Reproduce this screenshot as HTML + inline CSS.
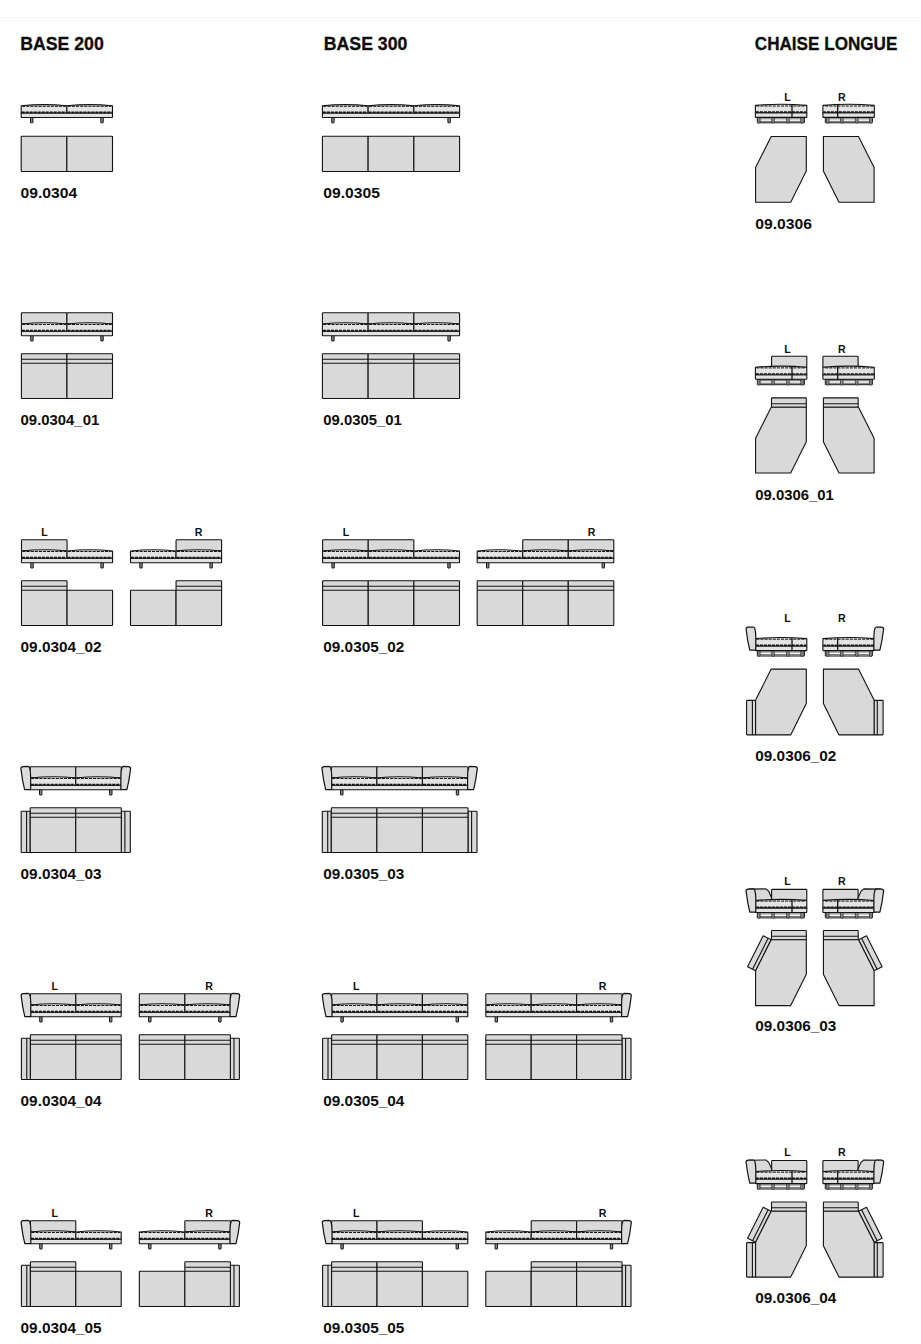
<!DOCTYPE html>
<html><head><meta charset="utf-8"><style>
html,body{margin:0;padding:0;background:#fff;}
body{width:921px;height:1344px;overflow:hidden;position:relative;}
svg{position:absolute;left:0;top:0;}
text{font-family:"Liberation Sans",sans-serif;font-weight:bold;fill:#0d0d0d;}
text.h{stroke:#0d0d0d;stroke-width:0.3px;}
</style></head><body>
<svg width="921" height="1344" viewBox="0 0 921 1344">
<line x1="0" y1="17.5" x2="921" y2="17.5" stroke="#f6f6f6" stroke-width="1"/>
<text x="20.2" y="50.2" font-size="18.8" font-weight="bold" text-anchor="start" letter-spacing="0" textLength="83.6" lengthAdjust="spacingAndGlyphs" class="h">BASE 200</text>
<text x="323.8" y="50.2" font-size="18.8" font-weight="bold" text-anchor="start" letter-spacing="0" textLength="83.6" lengthAdjust="spacingAndGlyphs" class="h">BASE 300</text>
<text x="754.8" y="50.2" font-size="18.8" font-weight="bold" text-anchor="start" letter-spacing="0" textLength="142.6" lengthAdjust="spacingAndGlyphs" class="h">CHAISE LONGUE</text>
<rect x="30.5" y="117.2" width="2.4" height="5.6" rx="0.3" fill="#8f8f8f" stroke="#121212" stroke-width="1"/>
<rect x="100.8" y="117.2" width="2.4" height="5.6" rx="0.3" fill="#8f8f8f" stroke="#121212" stroke-width="1"/>
<rect x="21.2" y="113" width="91.3" height="4.5" rx="0.4" fill="#e2e2e2" stroke="#121212" stroke-width="1.1"/>
<path d="M21.2,113 L21.2,105.8 Q44.02,103.4 66.85,105.8 L66.85,113 Z" fill="#e3e3e3" stroke="#121212" stroke-width="1.1" stroke-linejoin="round"/>
<line x1="22.2" y1="106.3" x2="65.85" y2="106.3" stroke="#121212" stroke-width="1" stroke-dasharray="3,1.1"/>
<line x1="21.7" y1="112.3" x2="66.35" y2="112.3" stroke="#121212" stroke-width="1.4" stroke-dasharray="3,1"/>
<path d="M66.85,113 L66.85,105.8 Q89.67,103.4 112.5,105.8 L112.5,113 Z" fill="#e3e3e3" stroke="#121212" stroke-width="1.1" stroke-linejoin="round"/>
<line x1="67.85" y1="106.3" x2="111.5" y2="106.3" stroke="#121212" stroke-width="1" stroke-dasharray="3,1.1"/>
<line x1="67.35" y1="112.3" x2="112" y2="112.3" stroke="#121212" stroke-width="1.4" stroke-dasharray="3,1"/>
<rect x="21.2" y="136.2" width="45.65" height="35.3" rx="0.6" fill="#d9d9d9" stroke="#121212" stroke-width="1.1"/>
<rect x="66.85" y="136.2" width="45.65" height="35.3" rx="0.6" fill="#d9d9d9" stroke="#121212" stroke-width="1.1"/>
<rect x="30.7" y="335.4" width="2.4" height="5.6" rx="0.3" fill="#8f8f8f" stroke="#121212" stroke-width="1"/>
<rect x="100.8" y="335.4" width="2.4" height="5.6" rx="0.3" fill="#8f8f8f" stroke="#121212" stroke-width="1"/>
<rect x="21.4" y="331.2" width="91.1" height="4.5" rx="0.4" fill="#e2e2e2" stroke="#121212" stroke-width="1.1"/>
<rect x="21.4" y="312.8" width="45.55" height="11" rx="0.8" fill="#d9d9d9" stroke="#121212" stroke-width="1.1"/>
<rect x="66.95" y="312.8" width="45.55" height="11" rx="0.8" fill="#d9d9d9" stroke="#121212" stroke-width="1.1"/>
<path d="M21.4,331.2 L21.4,324 Q44.17,321.6 66.95,324 L66.95,331.2 Z" fill="#e3e3e3" stroke="#121212" stroke-width="1.1" stroke-linejoin="round"/>
<line x1="22.4" y1="324.5" x2="65.95" y2="324.5" stroke="#121212" stroke-width="1" stroke-dasharray="3,1.1"/>
<line x1="21.9" y1="330.5" x2="66.45" y2="330.5" stroke="#121212" stroke-width="1.4" stroke-dasharray="3,1"/>
<path d="M66.95,331.2 L66.95,324 Q89.72,321.6 112.5,324 L112.5,331.2 Z" fill="#e3e3e3" stroke="#121212" stroke-width="1.1" stroke-linejoin="round"/>
<line x1="67.95" y1="324.5" x2="111.5" y2="324.5" stroke="#121212" stroke-width="1" stroke-dasharray="3,1.1"/>
<line x1="67.45" y1="330.5" x2="112" y2="330.5" stroke="#121212" stroke-width="1.4" stroke-dasharray="3,1"/>
<rect x="21.4" y="353.7" width="45.55" height="44.8" rx="0.6" fill="#d9d9d9" stroke="#121212" stroke-width="1.1"/>
<line x1="21.4" y1="359.2" x2="66.95" y2="359.2" stroke="#121212" stroke-width="1.1"/>
<line x1="21.4" y1="363.2" x2="66.95" y2="363.2" stroke="#121212" stroke-width="1.1"/>
<rect x="66.95" y="353.7" width="45.55" height="44.8" rx="0.6" fill="#d9d9d9" stroke="#121212" stroke-width="1.1"/>
<line x1="66.95" y1="359.2" x2="112.5" y2="359.2" stroke="#121212" stroke-width="1.1"/>
<line x1="66.95" y1="363.2" x2="112.5" y2="363.2" stroke="#121212" stroke-width="1.1"/>
<rect x="30.8" y="562.4" width="2.4" height="5.6" rx="0.3" fill="#8f8f8f" stroke="#121212" stroke-width="1"/>
<rect x="100.9" y="562.4" width="2.4" height="5.6" rx="0.3" fill="#8f8f8f" stroke="#121212" stroke-width="1"/>
<rect x="21.5" y="558.2" width="91.1" height="4.5" rx="0.4" fill="#e2e2e2" stroke="#121212" stroke-width="1.1"/>
<rect x="21.5" y="539.8" width="45.55" height="11" rx="0.8" fill="#d9d9d9" stroke="#121212" stroke-width="1.1"/>
<path d="M21.5,558.2 L21.5,551 Q44.27,548.6 67.05,551 L67.05,558.2 Z" fill="#e3e3e3" stroke="#121212" stroke-width="1.1" stroke-linejoin="round"/>
<line x1="22.5" y1="551.5" x2="66.05" y2="551.5" stroke="#121212" stroke-width="1" stroke-dasharray="3,1.1"/>
<line x1="22" y1="557.5" x2="66.55" y2="557.5" stroke="#121212" stroke-width="1.4" stroke-dasharray="3,1"/>
<path d="M67.05,558.2 L67.05,551 Q89.82,548.6 112.6,551 L112.6,558.2 Z" fill="#e3e3e3" stroke="#121212" stroke-width="1.1" stroke-linejoin="round"/>
<line x1="68.05" y1="551.5" x2="111.6" y2="551.5" stroke="#121212" stroke-width="1" stroke-dasharray="3,1.1"/>
<line x1="67.55" y1="557.5" x2="112.1" y2="557.5" stroke="#121212" stroke-width="1.4" stroke-dasharray="3,1"/>
<rect x="21.5" y="580.7" width="45.55" height="44.8" rx="0.6" fill="#d9d9d9" stroke="#121212" stroke-width="1.1"/>
<line x1="21.5" y1="586.2" x2="67.05" y2="586.2" stroke="#121212" stroke-width="1.1"/>
<line x1="21.5" y1="590.2" x2="67.05" y2="590.2" stroke="#121212" stroke-width="1.1"/>
<rect x="67.05" y="590.2" width="45.55" height="35.3" rx="0.6" fill="#d9d9d9" stroke="#121212" stroke-width="1.1"/>
<rect x="139.8" y="562.4" width="2.4" height="5.6" rx="0.3" fill="#8f8f8f" stroke="#121212" stroke-width="1"/>
<rect x="209.9" y="562.4" width="2.4" height="5.6" rx="0.3" fill="#8f8f8f" stroke="#121212" stroke-width="1"/>
<rect x="130.5" y="558.2" width="91.1" height="4.5" rx="0.4" fill="#e2e2e2" stroke="#121212" stroke-width="1.1"/>
<rect x="176.05" y="539.8" width="45.55" height="11" rx="0.8" fill="#d9d9d9" stroke="#121212" stroke-width="1.1"/>
<path d="M130.5,558.2 L130.5,551 Q153.28,548.6 176.05,551 L176.05,558.2 Z" fill="#e3e3e3" stroke="#121212" stroke-width="1.1" stroke-linejoin="round"/>
<line x1="131.5" y1="551.5" x2="175.05" y2="551.5" stroke="#121212" stroke-width="1" stroke-dasharray="3,1.1"/>
<line x1="131" y1="557.5" x2="175.55" y2="557.5" stroke="#121212" stroke-width="1.4" stroke-dasharray="3,1"/>
<path d="M176.05,558.2 L176.05,551 Q198.83,548.6 221.6,551 L221.6,558.2 Z" fill="#e3e3e3" stroke="#121212" stroke-width="1.1" stroke-linejoin="round"/>
<line x1="177.05" y1="551.5" x2="220.6" y2="551.5" stroke="#121212" stroke-width="1" stroke-dasharray="3,1.1"/>
<line x1="176.55" y1="557.5" x2="221.1" y2="557.5" stroke="#121212" stroke-width="1.4" stroke-dasharray="3,1"/>
<rect x="130.5" y="590.2" width="45.55" height="35.3" rx="0.6" fill="#d9d9d9" stroke="#121212" stroke-width="1.1"/>
<rect x="176.05" y="580.7" width="45.55" height="44.8" rx="0.6" fill="#d9d9d9" stroke="#121212" stroke-width="1.1"/>
<line x1="176.05" y1="586.2" x2="221.6" y2="586.2" stroke="#121212" stroke-width="1.1"/>
<line x1="176.05" y1="590.2" x2="221.6" y2="590.2" stroke="#121212" stroke-width="1.1"/>
<rect x="39.5" y="789.4" width="2.4" height="5.6" rx="0.3" fill="#8f8f8f" stroke="#121212" stroke-width="1"/>
<rect x="109.6" y="789.4" width="2.4" height="5.6" rx="0.3" fill="#8f8f8f" stroke="#121212" stroke-width="1"/>
<rect x="30.2" y="785.2" width="91.1" height="4.5" rx="0.4" fill="#e2e2e2" stroke="#121212" stroke-width="1.1"/>
<rect x="30.2" y="766.8" width="45.55" height="11" rx="0.8" fill="#d9d9d9" stroke="#121212" stroke-width="1.1"/>
<rect x="75.75" y="766.8" width="45.55" height="11" rx="0.8" fill="#d9d9d9" stroke="#121212" stroke-width="1.1"/>
<path d="M30.2,785.2 L30.2,778 Q52.98,775.6 75.75,778 L75.75,785.2 Z" fill="#e3e3e3" stroke="#121212" stroke-width="1.1" stroke-linejoin="round"/>
<line x1="31.2" y1="778.5" x2="74.75" y2="778.5" stroke="#121212" stroke-width="1" stroke-dasharray="3,1.1"/>
<line x1="30.7" y1="784.5" x2="75.25" y2="784.5" stroke="#121212" stroke-width="1.4" stroke-dasharray="3,1"/>
<path d="M75.75,785.2 L75.75,778 Q98.53,775.6 121.3,778 L121.3,785.2 Z" fill="#e3e3e3" stroke="#121212" stroke-width="1.1" stroke-linejoin="round"/>
<line x1="76.75" y1="778.5" x2="120.3" y2="778.5" stroke="#121212" stroke-width="1" stroke-dasharray="3,1.1"/>
<line x1="76.25" y1="784.5" x2="120.8" y2="784.5" stroke="#121212" stroke-width="1.4" stroke-dasharray="3,1"/>
<path d="M20.9,768.6 Q20.9,766.7 23,766.6 L27.8,766.4 Q29.2,766.5 29.6,767.8 Q30.6,771.2 30.6,776.2 L30.6,789.6 L24.6,789.6 Q22.2,780.2 20.9,768.6 Z" fill="#dcdcdc" stroke="#121212" stroke-width="1.2" stroke-linejoin="round"/>
<path d="M130.6,768.6 Q130.6,766.7 128.5,766.6 L123.7,766.4 Q122.3,766.5 121.9,767.8 Q120.9,771.2 120.9,776.2 L120.9,789.6 L126.9,789.6 Q129.3,780.2 130.6,768.6 Z" fill="#dcdcdc" stroke="#121212" stroke-width="1.2" stroke-linejoin="round"/>
<rect x="21.2" y="811.2" width="9" height="41.3" rx="0.6" fill="#d9d9d9" stroke="#121212" stroke-width="1.1"/>
<line x1="26.6" y1="811.2" x2="26.6" y2="852.5" stroke="#121212" stroke-width="1.1"/>
<rect x="121.3" y="811.2" width="9" height="41.3" rx="0.6" fill="#d9d9d9" stroke="#121212" stroke-width="1.1"/>
<line x1="124.9" y1="811.2" x2="124.9" y2="852.5" stroke="#121212" stroke-width="1.1"/>
<rect x="30.2" y="807.7" width="45.55" height="44.8" rx="0.6" fill="#d9d9d9" stroke="#121212" stroke-width="1.1"/>
<line x1="30.2" y1="813.2" x2="75.75" y2="813.2" stroke="#121212" stroke-width="1.1"/>
<line x1="30.2" y1="817.2" x2="75.75" y2="817.2" stroke="#121212" stroke-width="1.1"/>
<rect x="75.75" y="807.7" width="45.55" height="44.8" rx="0.6" fill="#d9d9d9" stroke="#121212" stroke-width="1.1"/>
<line x1="75.75" y1="813.2" x2="121.3" y2="813.2" stroke="#121212" stroke-width="1.1"/>
<line x1="75.75" y1="817.2" x2="121.3" y2="817.2" stroke="#121212" stroke-width="1.1"/>
<rect x="39.7" y="1016.4" width="2.4" height="5.6" rx="0.3" fill="#8f8f8f" stroke="#121212" stroke-width="1"/>
<rect x="109.5" y="1016.4" width="2.4" height="5.6" rx="0.3" fill="#8f8f8f" stroke="#121212" stroke-width="1"/>
<rect x="30.4" y="1012.2" width="90.8" height="4.5" rx="0.4" fill="#e2e2e2" stroke="#121212" stroke-width="1.1"/>
<rect x="30.4" y="993.8" width="45.4" height="11" rx="0.8" fill="#d9d9d9" stroke="#121212" stroke-width="1.1"/>
<rect x="75.8" y="993.8" width="45.4" height="11" rx="0.8" fill="#d9d9d9" stroke="#121212" stroke-width="1.1"/>
<path d="M30.4,1012.2 L30.4,1005 Q53.1,1002.6 75.8,1005 L75.8,1012.2 Z" fill="#e3e3e3" stroke="#121212" stroke-width="1.1" stroke-linejoin="round"/>
<line x1="31.4" y1="1005.5" x2="74.8" y2="1005.5" stroke="#121212" stroke-width="1" stroke-dasharray="3,1.1"/>
<line x1="30.9" y1="1011.5" x2="75.3" y2="1011.5" stroke="#121212" stroke-width="1.4" stroke-dasharray="3,1"/>
<path d="M75.8,1012.2 L75.8,1005 Q98.5,1002.6 121.2,1005 L121.2,1012.2 Z" fill="#e3e3e3" stroke="#121212" stroke-width="1.1" stroke-linejoin="round"/>
<line x1="76.8" y1="1005.5" x2="120.2" y2="1005.5" stroke="#121212" stroke-width="1" stroke-dasharray="3,1.1"/>
<line x1="76.3" y1="1011.5" x2="120.7" y2="1011.5" stroke="#121212" stroke-width="1.4" stroke-dasharray="3,1"/>
<path d="M21.1,995.6 Q21.1,993.7 23.2,993.6 L28,993.4 Q29.4,993.5 29.8,994.8 Q30.8,998.2 30.8,1003.2 L30.8,1016.6 L24.8,1016.6 Q22.4,1007.2 21.1,995.6 Z" fill="#dcdcdc" stroke="#121212" stroke-width="1.2" stroke-linejoin="round"/>
<rect x="21.4" y="1038.2" width="9" height="41.3" rx="0.6" fill="#d9d9d9" stroke="#121212" stroke-width="1.1"/>
<line x1="26.8" y1="1038.2" x2="26.8" y2="1079.5" stroke="#121212" stroke-width="1.1"/>
<rect x="30.4" y="1034.7" width="45.4" height="44.8" rx="0.6" fill="#d9d9d9" stroke="#121212" stroke-width="1.1"/>
<line x1="30.4" y1="1040.2" x2="75.8" y2="1040.2" stroke="#121212" stroke-width="1.1"/>
<line x1="30.4" y1="1044.2" x2="75.8" y2="1044.2" stroke="#121212" stroke-width="1.1"/>
<rect x="75.8" y="1034.7" width="45.4" height="44.8" rx="0.6" fill="#d9d9d9" stroke="#121212" stroke-width="1.1"/>
<line x1="75.8" y1="1040.2" x2="121.2" y2="1040.2" stroke="#121212" stroke-width="1.1"/>
<line x1="75.8" y1="1044.2" x2="121.2" y2="1044.2" stroke="#121212" stroke-width="1.1"/>
<rect x="148.6" y="1016.4" width="2.4" height="5.6" rx="0.3" fill="#8f8f8f" stroke="#121212" stroke-width="1"/>
<rect x="218.7" y="1016.4" width="2.4" height="5.6" rx="0.3" fill="#8f8f8f" stroke="#121212" stroke-width="1"/>
<rect x="139.3" y="1012.2" width="91.1" height="4.5" rx="0.4" fill="#e2e2e2" stroke="#121212" stroke-width="1.1"/>
<rect x="139.3" y="993.8" width="45.55" height="11" rx="0.8" fill="#d9d9d9" stroke="#121212" stroke-width="1.1"/>
<rect x="184.85" y="993.8" width="45.55" height="11" rx="0.8" fill="#d9d9d9" stroke="#121212" stroke-width="1.1"/>
<path d="M139.3,1012.2 L139.3,1005 Q162.08,1002.6 184.85,1005 L184.85,1012.2 Z" fill="#e3e3e3" stroke="#121212" stroke-width="1.1" stroke-linejoin="round"/>
<line x1="140.3" y1="1005.5" x2="183.85" y2="1005.5" stroke="#121212" stroke-width="1" stroke-dasharray="3,1.1"/>
<line x1="139.8" y1="1011.5" x2="184.35" y2="1011.5" stroke="#121212" stroke-width="1.4" stroke-dasharray="3,1"/>
<path d="M184.85,1012.2 L184.85,1005 Q207.63,1002.6 230.4,1005 L230.4,1012.2 Z" fill="#e3e3e3" stroke="#121212" stroke-width="1.1" stroke-linejoin="round"/>
<line x1="185.85" y1="1005.5" x2="229.4" y2="1005.5" stroke="#121212" stroke-width="1" stroke-dasharray="3,1.1"/>
<line x1="185.35" y1="1011.5" x2="229.9" y2="1011.5" stroke="#121212" stroke-width="1.4" stroke-dasharray="3,1"/>
<path d="M239.7,995.6 Q239.7,993.7 237.6,993.6 L232.8,993.4 Q231.4,993.5 231,994.8 Q230,998.2 230,1003.2 L230,1016.6 L236,1016.6 Q238.4,1007.2 239.7,995.6 Z" fill="#dcdcdc" stroke="#121212" stroke-width="1.2" stroke-linejoin="round"/>
<rect x="230.4" y="1038.2" width="9" height="41.3" rx="0.6" fill="#d9d9d9" stroke="#121212" stroke-width="1.1"/>
<line x1="234" y1="1038.2" x2="234" y2="1079.5" stroke="#121212" stroke-width="1.1"/>
<rect x="139.3" y="1034.7" width="45.55" height="44.8" rx="0.6" fill="#d9d9d9" stroke="#121212" stroke-width="1.1"/>
<line x1="139.3" y1="1040.2" x2="184.85" y2="1040.2" stroke="#121212" stroke-width="1.1"/>
<line x1="139.3" y1="1044.2" x2="184.85" y2="1044.2" stroke="#121212" stroke-width="1.1"/>
<rect x="184.85" y="1034.7" width="45.55" height="44.8" rx="0.6" fill="#d9d9d9" stroke="#121212" stroke-width="1.1"/>
<line x1="184.85" y1="1040.2" x2="230.4" y2="1040.2" stroke="#121212" stroke-width="1.1"/>
<line x1="184.85" y1="1044.2" x2="230.4" y2="1044.2" stroke="#121212" stroke-width="1.1"/>
<rect x="39.7" y="1243.4" width="2.4" height="5.6" rx="0.3" fill="#8f8f8f" stroke="#121212" stroke-width="1"/>
<rect x="109.5" y="1243.4" width="2.4" height="5.6" rx="0.3" fill="#8f8f8f" stroke="#121212" stroke-width="1"/>
<rect x="30.4" y="1239.2" width="90.8" height="4.5" rx="0.4" fill="#e2e2e2" stroke="#121212" stroke-width="1.1"/>
<rect x="30.4" y="1220.8" width="45.4" height="11" rx="0.8" fill="#d9d9d9" stroke="#121212" stroke-width="1.1"/>
<path d="M30.4,1239.2 L30.4,1232 Q53.1,1229.6 75.8,1232 L75.8,1239.2 Z" fill="#e3e3e3" stroke="#121212" stroke-width="1.1" stroke-linejoin="round"/>
<line x1="31.4" y1="1232.5" x2="74.8" y2="1232.5" stroke="#121212" stroke-width="1" stroke-dasharray="3,1.1"/>
<line x1="30.9" y1="1238.5" x2="75.3" y2="1238.5" stroke="#121212" stroke-width="1.4" stroke-dasharray="3,1"/>
<path d="M75.8,1239.2 L75.8,1232 Q98.5,1229.6 121.2,1232 L121.2,1239.2 Z" fill="#e3e3e3" stroke="#121212" stroke-width="1.1" stroke-linejoin="round"/>
<line x1="76.8" y1="1232.5" x2="120.2" y2="1232.5" stroke="#121212" stroke-width="1" stroke-dasharray="3,1.1"/>
<line x1="76.3" y1="1238.5" x2="120.7" y2="1238.5" stroke="#121212" stroke-width="1.4" stroke-dasharray="3,1"/>
<path d="M21.1,1222.6 Q21.1,1220.7 23.2,1220.6 L28,1220.4 Q29.4,1220.5 29.8,1221.8 Q30.8,1225.2 30.8,1230.2 L30.8,1243.6 L24.8,1243.6 Q22.4,1234.2 21.1,1222.6 Z" fill="#dcdcdc" stroke="#121212" stroke-width="1.2" stroke-linejoin="round"/>
<rect x="21.4" y="1265.2" width="9" height="41.3" rx="0.6" fill="#d9d9d9" stroke="#121212" stroke-width="1.1"/>
<line x1="26.8" y1="1265.2" x2="26.8" y2="1306.5" stroke="#121212" stroke-width="1.1"/>
<rect x="30.4" y="1261.7" width="45.4" height="44.8" rx="0.6" fill="#d9d9d9" stroke="#121212" stroke-width="1.1"/>
<line x1="30.4" y1="1267.2" x2="75.8" y2="1267.2" stroke="#121212" stroke-width="1.1"/>
<line x1="30.4" y1="1271.2" x2="75.8" y2="1271.2" stroke="#121212" stroke-width="1.1"/>
<rect x="75.8" y="1271.2" width="45.4" height="35.3" rx="0.6" fill="#d9d9d9" stroke="#121212" stroke-width="1.1"/>
<rect x="148.6" y="1243.4" width="2.4" height="5.6" rx="0.3" fill="#8f8f8f" stroke="#121212" stroke-width="1"/>
<rect x="218.7" y="1243.4" width="2.4" height="5.6" rx="0.3" fill="#8f8f8f" stroke="#121212" stroke-width="1"/>
<rect x="139.3" y="1239.2" width="91.1" height="4.5" rx="0.4" fill="#e2e2e2" stroke="#121212" stroke-width="1.1"/>
<rect x="184.85" y="1220.8" width="45.55" height="11" rx="0.8" fill="#d9d9d9" stroke="#121212" stroke-width="1.1"/>
<path d="M139.3,1239.2 L139.3,1232 Q162.08,1229.6 184.85,1232 L184.85,1239.2 Z" fill="#e3e3e3" stroke="#121212" stroke-width="1.1" stroke-linejoin="round"/>
<line x1="140.3" y1="1232.5" x2="183.85" y2="1232.5" stroke="#121212" stroke-width="1" stroke-dasharray="3,1.1"/>
<line x1="139.8" y1="1238.5" x2="184.35" y2="1238.5" stroke="#121212" stroke-width="1.4" stroke-dasharray="3,1"/>
<path d="M184.85,1239.2 L184.85,1232 Q207.63,1229.6 230.4,1232 L230.4,1239.2 Z" fill="#e3e3e3" stroke="#121212" stroke-width="1.1" stroke-linejoin="round"/>
<line x1="185.85" y1="1232.5" x2="229.4" y2="1232.5" stroke="#121212" stroke-width="1" stroke-dasharray="3,1.1"/>
<line x1="185.35" y1="1238.5" x2="229.9" y2="1238.5" stroke="#121212" stroke-width="1.4" stroke-dasharray="3,1"/>
<path d="M239.7,1222.6 Q239.7,1220.7 237.6,1220.6 L232.8,1220.4 Q231.4,1220.5 231,1221.8 Q230,1225.2 230,1230.2 L230,1243.6 L236,1243.6 Q238.4,1234.2 239.7,1222.6 Z" fill="#dcdcdc" stroke="#121212" stroke-width="1.2" stroke-linejoin="round"/>
<rect x="230.4" y="1265.2" width="9" height="41.3" rx="0.6" fill="#d9d9d9" stroke="#121212" stroke-width="1.1"/>
<line x1="234" y1="1265.2" x2="234" y2="1306.5" stroke="#121212" stroke-width="1.1"/>
<rect x="139.3" y="1271.2" width="45.55" height="35.3" rx="0.6" fill="#d9d9d9" stroke="#121212" stroke-width="1.1"/>
<rect x="184.85" y="1261.7" width="45.55" height="44.8" rx="0.6" fill="#d9d9d9" stroke="#121212" stroke-width="1.1"/>
<line x1="184.85" y1="1267.2" x2="230.4" y2="1267.2" stroke="#121212" stroke-width="1.1"/>
<line x1="184.85" y1="1271.2" x2="230.4" y2="1271.2" stroke="#121212" stroke-width="1.1"/>
<rect x="331.7" y="117.2" width="2.4" height="5.6" rx="0.3" fill="#8f8f8f" stroke="#121212" stroke-width="1"/>
<rect x="447.9" y="117.2" width="2.4" height="5.6" rx="0.3" fill="#8f8f8f" stroke="#121212" stroke-width="1"/>
<rect x="322.4" y="113" width="137.2" height="4.5" rx="0.4" fill="#e2e2e2" stroke="#121212" stroke-width="1.1"/>
<path d="M322.4,113 L322.4,105.8 Q345.27,103.4 368.13,105.8 L368.13,113 Z" fill="#e3e3e3" stroke="#121212" stroke-width="1.1" stroke-linejoin="round"/>
<line x1="323.4" y1="106.3" x2="367.13" y2="106.3" stroke="#121212" stroke-width="1" stroke-dasharray="3,1.1"/>
<line x1="322.9" y1="112.3" x2="367.63" y2="112.3" stroke="#121212" stroke-width="1.4" stroke-dasharray="3,1"/>
<path d="M368.13,113 L368.13,105.8 Q391,103.4 413.87,105.8 L413.87,113 Z" fill="#e3e3e3" stroke="#121212" stroke-width="1.1" stroke-linejoin="round"/>
<line x1="369.13" y1="106.3" x2="412.87" y2="106.3" stroke="#121212" stroke-width="1" stroke-dasharray="3,1.1"/>
<line x1="368.63" y1="112.3" x2="413.37" y2="112.3" stroke="#121212" stroke-width="1.4" stroke-dasharray="3,1"/>
<path d="M413.87,113 L413.87,105.8 Q436.73,103.4 459.6,105.8 L459.6,113 Z" fill="#e3e3e3" stroke="#121212" stroke-width="1.1" stroke-linejoin="round"/>
<line x1="414.87" y1="106.3" x2="458.6" y2="106.3" stroke="#121212" stroke-width="1" stroke-dasharray="3,1.1"/>
<line x1="414.37" y1="112.3" x2="459.1" y2="112.3" stroke="#121212" stroke-width="1.4" stroke-dasharray="3,1"/>
<rect x="322.4" y="136.2" width="45.73" height="35.3" rx="0.6" fill="#d9d9d9" stroke="#121212" stroke-width="1.1"/>
<rect x="368.13" y="136.2" width="45.73" height="35.3" rx="0.6" fill="#d9d9d9" stroke="#121212" stroke-width="1.1"/>
<rect x="413.87" y="136.2" width="45.73" height="35.3" rx="0.6" fill="#d9d9d9" stroke="#121212" stroke-width="1.1"/>
<rect x="331.7" y="335.4" width="2.4" height="5.6" rx="0.3" fill="#8f8f8f" stroke="#121212" stroke-width="1"/>
<rect x="447.9" y="335.4" width="2.4" height="5.6" rx="0.3" fill="#8f8f8f" stroke="#121212" stroke-width="1"/>
<rect x="322.4" y="331.2" width="137.2" height="4.5" rx="0.4" fill="#e2e2e2" stroke="#121212" stroke-width="1.1"/>
<rect x="322.4" y="312.8" width="45.73" height="11" rx="0.8" fill="#d9d9d9" stroke="#121212" stroke-width="1.1"/>
<rect x="368.13" y="312.8" width="45.73" height="11" rx="0.8" fill="#d9d9d9" stroke="#121212" stroke-width="1.1"/>
<rect x="413.87" y="312.8" width="45.73" height="11" rx="0.8" fill="#d9d9d9" stroke="#121212" stroke-width="1.1"/>
<path d="M322.4,331.2 L322.4,324 Q345.27,321.6 368.13,324 L368.13,331.2 Z" fill="#e3e3e3" stroke="#121212" stroke-width="1.1" stroke-linejoin="round"/>
<line x1="323.4" y1="324.5" x2="367.13" y2="324.5" stroke="#121212" stroke-width="1" stroke-dasharray="3,1.1"/>
<line x1="322.9" y1="330.5" x2="367.63" y2="330.5" stroke="#121212" stroke-width="1.4" stroke-dasharray="3,1"/>
<path d="M368.13,331.2 L368.13,324 Q391,321.6 413.87,324 L413.87,331.2 Z" fill="#e3e3e3" stroke="#121212" stroke-width="1.1" stroke-linejoin="round"/>
<line x1="369.13" y1="324.5" x2="412.87" y2="324.5" stroke="#121212" stroke-width="1" stroke-dasharray="3,1.1"/>
<line x1="368.63" y1="330.5" x2="413.37" y2="330.5" stroke="#121212" stroke-width="1.4" stroke-dasharray="3,1"/>
<path d="M413.87,331.2 L413.87,324 Q436.73,321.6 459.6,324 L459.6,331.2 Z" fill="#e3e3e3" stroke="#121212" stroke-width="1.1" stroke-linejoin="round"/>
<line x1="414.87" y1="324.5" x2="458.6" y2="324.5" stroke="#121212" stroke-width="1" stroke-dasharray="3,1.1"/>
<line x1="414.37" y1="330.5" x2="459.1" y2="330.5" stroke="#121212" stroke-width="1.4" stroke-dasharray="3,1"/>
<rect x="322.4" y="353.7" width="45.73" height="44.8" rx="0.6" fill="#d9d9d9" stroke="#121212" stroke-width="1.1"/>
<line x1="322.4" y1="359.2" x2="368.13" y2="359.2" stroke="#121212" stroke-width="1.1"/>
<line x1="322.4" y1="363.2" x2="368.13" y2="363.2" stroke="#121212" stroke-width="1.1"/>
<rect x="368.13" y="353.7" width="45.73" height="44.8" rx="0.6" fill="#d9d9d9" stroke="#121212" stroke-width="1.1"/>
<line x1="368.13" y1="359.2" x2="413.87" y2="359.2" stroke="#121212" stroke-width="1.1"/>
<line x1="368.13" y1="363.2" x2="413.87" y2="363.2" stroke="#121212" stroke-width="1.1"/>
<rect x="413.87" y="353.7" width="45.73" height="44.8" rx="0.6" fill="#d9d9d9" stroke="#121212" stroke-width="1.1"/>
<line x1="413.87" y1="359.2" x2="459.6" y2="359.2" stroke="#121212" stroke-width="1.1"/>
<line x1="413.87" y1="363.2" x2="459.6" y2="363.2" stroke="#121212" stroke-width="1.1"/>
<rect x="331.9" y="562.4" width="2.4" height="5.6" rx="0.3" fill="#8f8f8f" stroke="#121212" stroke-width="1"/>
<rect x="447.8" y="562.4" width="2.4" height="5.6" rx="0.3" fill="#8f8f8f" stroke="#121212" stroke-width="1"/>
<rect x="322.6" y="558.2" width="136.9" height="4.5" rx="0.4" fill="#e2e2e2" stroke="#121212" stroke-width="1.1"/>
<rect x="322.6" y="539.8" width="45.63" height="11" rx="0.8" fill="#d9d9d9" stroke="#121212" stroke-width="1.1"/>
<rect x="368.23" y="539.8" width="45.63" height="11" rx="0.8" fill="#d9d9d9" stroke="#121212" stroke-width="1.1"/>
<path d="M322.6,558.2 L322.6,551 Q345.42,548.6 368.23,551 L368.23,558.2 Z" fill="#e3e3e3" stroke="#121212" stroke-width="1.1" stroke-linejoin="round"/>
<line x1="323.6" y1="551.5" x2="367.23" y2="551.5" stroke="#121212" stroke-width="1" stroke-dasharray="3,1.1"/>
<line x1="323.1" y1="557.5" x2="367.73" y2="557.5" stroke="#121212" stroke-width="1.4" stroke-dasharray="3,1"/>
<path d="M368.23,558.2 L368.23,551 Q391.05,548.6 413.87,551 L413.87,558.2 Z" fill="#e3e3e3" stroke="#121212" stroke-width="1.1" stroke-linejoin="round"/>
<line x1="369.23" y1="551.5" x2="412.87" y2="551.5" stroke="#121212" stroke-width="1" stroke-dasharray="3,1.1"/>
<line x1="368.73" y1="557.5" x2="413.37" y2="557.5" stroke="#121212" stroke-width="1.4" stroke-dasharray="3,1"/>
<path d="M413.87,558.2 L413.87,551 Q436.68,548.6 459.5,551 L459.5,558.2 Z" fill="#e3e3e3" stroke="#121212" stroke-width="1.1" stroke-linejoin="round"/>
<line x1="414.87" y1="551.5" x2="458.5" y2="551.5" stroke="#121212" stroke-width="1" stroke-dasharray="3,1.1"/>
<line x1="414.37" y1="557.5" x2="459" y2="557.5" stroke="#121212" stroke-width="1.4" stroke-dasharray="3,1"/>
<rect x="322.6" y="580.7" width="45.63" height="44.8" rx="0.6" fill="#d9d9d9" stroke="#121212" stroke-width="1.1"/>
<line x1="322.6" y1="586.2" x2="368.23" y2="586.2" stroke="#121212" stroke-width="1.1"/>
<line x1="322.6" y1="590.2" x2="368.23" y2="590.2" stroke="#121212" stroke-width="1.1"/>
<rect x="368.23" y="580.7" width="45.63" height="44.8" rx="0.6" fill="#d9d9d9" stroke="#121212" stroke-width="1.1"/>
<line x1="368.23" y1="586.2" x2="413.87" y2="586.2" stroke="#121212" stroke-width="1.1"/>
<line x1="368.23" y1="590.2" x2="413.87" y2="590.2" stroke="#121212" stroke-width="1.1"/>
<rect x="413.87" y="580.7" width="45.63" height="44.8" rx="0.6" fill="#d9d9d9" stroke="#121212" stroke-width="1.1"/>
<line x1="413.87" y1="586.2" x2="459.5" y2="586.2" stroke="#121212" stroke-width="1.1"/>
<line x1="413.87" y1="590.2" x2="459.5" y2="590.2" stroke="#121212" stroke-width="1.1"/>
<rect x="486.5" y="562.4" width="2.4" height="5.6" rx="0.3" fill="#8f8f8f" stroke="#121212" stroke-width="1"/>
<rect x="602.1" y="562.4" width="2.4" height="5.6" rx="0.3" fill="#8f8f8f" stroke="#121212" stroke-width="1"/>
<rect x="477.2" y="558.2" width="136.6" height="4.5" rx="0.4" fill="#e2e2e2" stroke="#121212" stroke-width="1.1"/>
<rect x="522.73" y="539.8" width="45.53" height="11" rx="0.8" fill="#d9d9d9" stroke="#121212" stroke-width="1.1"/>
<rect x="568.27" y="539.8" width="45.53" height="11" rx="0.8" fill="#d9d9d9" stroke="#121212" stroke-width="1.1"/>
<path d="M477.2,558.2 L477.2,551 Q499.97,548.6 522.73,551 L522.73,558.2 Z" fill="#e3e3e3" stroke="#121212" stroke-width="1.1" stroke-linejoin="round"/>
<line x1="478.2" y1="551.5" x2="521.73" y2="551.5" stroke="#121212" stroke-width="1" stroke-dasharray="3,1.1"/>
<line x1="477.7" y1="557.5" x2="522.23" y2="557.5" stroke="#121212" stroke-width="1.4" stroke-dasharray="3,1"/>
<path d="M522.73,558.2 L522.73,551 Q545.5,548.6 568.27,551 L568.27,558.2 Z" fill="#e3e3e3" stroke="#121212" stroke-width="1.1" stroke-linejoin="round"/>
<line x1="523.73" y1="551.5" x2="567.27" y2="551.5" stroke="#121212" stroke-width="1" stroke-dasharray="3,1.1"/>
<line x1="523.23" y1="557.5" x2="567.77" y2="557.5" stroke="#121212" stroke-width="1.4" stroke-dasharray="3,1"/>
<path d="M568.27,558.2 L568.27,551 Q591.03,548.6 613.8,551 L613.8,558.2 Z" fill="#e3e3e3" stroke="#121212" stroke-width="1.1" stroke-linejoin="round"/>
<line x1="569.27" y1="551.5" x2="612.8" y2="551.5" stroke="#121212" stroke-width="1" stroke-dasharray="3,1.1"/>
<line x1="568.77" y1="557.5" x2="613.3" y2="557.5" stroke="#121212" stroke-width="1.4" stroke-dasharray="3,1"/>
<rect x="477.2" y="580.7" width="45.53" height="44.8" rx="0.6" fill="#d9d9d9" stroke="#121212" stroke-width="1.1"/>
<line x1="477.2" y1="586.2" x2="522.73" y2="586.2" stroke="#121212" stroke-width="1.1"/>
<line x1="477.2" y1="590.2" x2="522.73" y2="590.2" stroke="#121212" stroke-width="1.1"/>
<rect x="522.73" y="580.7" width="45.53" height="44.8" rx="0.6" fill="#d9d9d9" stroke="#121212" stroke-width="1.1"/>
<line x1="522.73" y1="586.2" x2="568.27" y2="586.2" stroke="#121212" stroke-width="1.1"/>
<line x1="522.73" y1="590.2" x2="568.27" y2="590.2" stroke="#121212" stroke-width="1.1"/>
<rect x="568.27" y="580.7" width="45.53" height="44.8" rx="0.6" fill="#d9d9d9" stroke="#121212" stroke-width="1.1"/>
<line x1="568.27" y1="586.2" x2="613.8" y2="586.2" stroke="#121212" stroke-width="1.1"/>
<line x1="568.27" y1="590.2" x2="613.8" y2="590.2" stroke="#121212" stroke-width="1.1"/>
<rect x="340.6" y="789.4" width="2.4" height="5.6" rx="0.3" fill="#8f8f8f" stroke="#121212" stroke-width="1"/>
<rect x="456.3" y="789.4" width="2.4" height="5.6" rx="0.3" fill="#8f8f8f" stroke="#121212" stroke-width="1"/>
<rect x="331.3" y="785.2" width="136.7" height="4.5" rx="0.4" fill="#e2e2e2" stroke="#121212" stroke-width="1.1"/>
<rect x="331.3" y="766.8" width="45.57" height="11" rx="0.8" fill="#d9d9d9" stroke="#121212" stroke-width="1.1"/>
<rect x="376.87" y="766.8" width="45.57" height="11" rx="0.8" fill="#d9d9d9" stroke="#121212" stroke-width="1.1"/>
<rect x="422.43" y="766.8" width="45.57" height="11" rx="0.8" fill="#d9d9d9" stroke="#121212" stroke-width="1.1"/>
<path d="M331.3,785.2 L331.3,778 Q354.08,775.6 376.87,778 L376.87,785.2 Z" fill="#e3e3e3" stroke="#121212" stroke-width="1.1" stroke-linejoin="round"/>
<line x1="332.3" y1="778.5" x2="375.87" y2="778.5" stroke="#121212" stroke-width="1" stroke-dasharray="3,1.1"/>
<line x1="331.8" y1="784.5" x2="376.37" y2="784.5" stroke="#121212" stroke-width="1.4" stroke-dasharray="3,1"/>
<path d="M376.87,785.2 L376.87,778 Q399.65,775.6 422.43,778 L422.43,785.2 Z" fill="#e3e3e3" stroke="#121212" stroke-width="1.1" stroke-linejoin="round"/>
<line x1="377.87" y1="778.5" x2="421.43" y2="778.5" stroke="#121212" stroke-width="1" stroke-dasharray="3,1.1"/>
<line x1="377.37" y1="784.5" x2="421.93" y2="784.5" stroke="#121212" stroke-width="1.4" stroke-dasharray="3,1"/>
<path d="M422.43,785.2 L422.43,778 Q445.22,775.6 468,778 L468,785.2 Z" fill="#e3e3e3" stroke="#121212" stroke-width="1.1" stroke-linejoin="round"/>
<line x1="423.43" y1="778.5" x2="467" y2="778.5" stroke="#121212" stroke-width="1" stroke-dasharray="3,1.1"/>
<line x1="422.93" y1="784.5" x2="467.5" y2="784.5" stroke="#121212" stroke-width="1.4" stroke-dasharray="3,1"/>
<path d="M322,768.6 Q322,766.7 324.1,766.6 L328.9,766.4 Q330.3,766.5 330.7,767.8 Q331.7,771.2 331.7,776.2 L331.7,789.6 L325.7,789.6 Q323.3,780.2 322,768.6 Z" fill="#dcdcdc" stroke="#121212" stroke-width="1.2" stroke-linejoin="round"/>
<path d="M477.3,768.6 Q477.3,766.7 475.2,766.6 L470.4,766.4 Q469,766.5 468.6,767.8 Q467.6,771.2 467.6,776.2 L467.6,789.6 L473.6,789.6 Q476,780.2 477.3,768.6 Z" fill="#dcdcdc" stroke="#121212" stroke-width="1.2" stroke-linejoin="round"/>
<rect x="322.3" y="811.2" width="9" height="41.3" rx="0.6" fill="#d9d9d9" stroke="#121212" stroke-width="1.1"/>
<line x1="327.7" y1="811.2" x2="327.7" y2="852.5" stroke="#121212" stroke-width="1.1"/>
<rect x="468" y="811.2" width="9" height="41.3" rx="0.6" fill="#d9d9d9" stroke="#121212" stroke-width="1.1"/>
<line x1="471.6" y1="811.2" x2="471.6" y2="852.5" stroke="#121212" stroke-width="1.1"/>
<rect x="331.3" y="807.7" width="45.57" height="44.8" rx="0.6" fill="#d9d9d9" stroke="#121212" stroke-width="1.1"/>
<line x1="331.3" y1="813.2" x2="376.87" y2="813.2" stroke="#121212" stroke-width="1.1"/>
<line x1="331.3" y1="817.2" x2="376.87" y2="817.2" stroke="#121212" stroke-width="1.1"/>
<rect x="376.87" y="807.7" width="45.57" height="44.8" rx="0.6" fill="#d9d9d9" stroke="#121212" stroke-width="1.1"/>
<line x1="376.87" y1="813.2" x2="422.43" y2="813.2" stroke="#121212" stroke-width="1.1"/>
<line x1="376.87" y1="817.2" x2="422.43" y2="817.2" stroke="#121212" stroke-width="1.1"/>
<rect x="422.43" y="807.7" width="45.57" height="44.8" rx="0.6" fill="#d9d9d9" stroke="#121212" stroke-width="1.1"/>
<line x1="422.43" y1="813.2" x2="468" y2="813.2" stroke="#121212" stroke-width="1.1"/>
<line x1="422.43" y1="817.2" x2="468" y2="817.2" stroke="#121212" stroke-width="1.1"/>
<rect x="340.9" y="1016.4" width="2.4" height="5.6" rx="0.3" fill="#8f8f8f" stroke="#121212" stroke-width="1"/>
<rect x="456.1" y="1016.4" width="2.4" height="5.6" rx="0.3" fill="#8f8f8f" stroke="#121212" stroke-width="1"/>
<rect x="331.6" y="1012.2" width="136.2" height="4.5" rx="0.4" fill="#e2e2e2" stroke="#121212" stroke-width="1.1"/>
<rect x="331.6" y="993.8" width="45.4" height="11" rx="0.8" fill="#d9d9d9" stroke="#121212" stroke-width="1.1"/>
<rect x="377" y="993.8" width="45.4" height="11" rx="0.8" fill="#d9d9d9" stroke="#121212" stroke-width="1.1"/>
<rect x="422.4" y="993.8" width="45.4" height="11" rx="0.8" fill="#d9d9d9" stroke="#121212" stroke-width="1.1"/>
<path d="M331.6,1012.2 L331.6,1005 Q354.3,1002.6 377,1005 L377,1012.2 Z" fill="#e3e3e3" stroke="#121212" stroke-width="1.1" stroke-linejoin="round"/>
<line x1="332.6" y1="1005.5" x2="376" y2="1005.5" stroke="#121212" stroke-width="1" stroke-dasharray="3,1.1"/>
<line x1="332.1" y1="1011.5" x2="376.5" y2="1011.5" stroke="#121212" stroke-width="1.4" stroke-dasharray="3,1"/>
<path d="M377,1012.2 L377,1005 Q399.7,1002.6 422.4,1005 L422.4,1012.2 Z" fill="#e3e3e3" stroke="#121212" stroke-width="1.1" stroke-linejoin="round"/>
<line x1="378" y1="1005.5" x2="421.4" y2="1005.5" stroke="#121212" stroke-width="1" stroke-dasharray="3,1.1"/>
<line x1="377.5" y1="1011.5" x2="421.9" y2="1011.5" stroke="#121212" stroke-width="1.4" stroke-dasharray="3,1"/>
<path d="M422.4,1012.2 L422.4,1005 Q445.1,1002.6 467.8,1005 L467.8,1012.2 Z" fill="#e3e3e3" stroke="#121212" stroke-width="1.1" stroke-linejoin="round"/>
<line x1="423.4" y1="1005.5" x2="466.8" y2="1005.5" stroke="#121212" stroke-width="1" stroke-dasharray="3,1.1"/>
<line x1="422.9" y1="1011.5" x2="467.3" y2="1011.5" stroke="#121212" stroke-width="1.4" stroke-dasharray="3,1"/>
<path d="M322.3,995.6 Q322.3,993.7 324.4,993.6 L329.2,993.4 Q330.6,993.5 331,994.8 Q332,998.2 332,1003.2 L332,1016.6 L326,1016.6 Q323.6,1007.2 322.3,995.6 Z" fill="#dcdcdc" stroke="#121212" stroke-width="1.2" stroke-linejoin="round"/>
<rect x="322.6" y="1038.2" width="9" height="41.3" rx="0.6" fill="#d9d9d9" stroke="#121212" stroke-width="1.1"/>
<line x1="328" y1="1038.2" x2="328" y2="1079.5" stroke="#121212" stroke-width="1.1"/>
<rect x="331.6" y="1034.7" width="45.4" height="44.8" rx="0.6" fill="#d9d9d9" stroke="#121212" stroke-width="1.1"/>
<line x1="331.6" y1="1040.2" x2="377" y2="1040.2" stroke="#121212" stroke-width="1.1"/>
<line x1="331.6" y1="1044.2" x2="377" y2="1044.2" stroke="#121212" stroke-width="1.1"/>
<rect x="377" y="1034.7" width="45.4" height="44.8" rx="0.6" fill="#d9d9d9" stroke="#121212" stroke-width="1.1"/>
<line x1="377" y1="1040.2" x2="422.4" y2="1040.2" stroke="#121212" stroke-width="1.1"/>
<line x1="377" y1="1044.2" x2="422.4" y2="1044.2" stroke="#121212" stroke-width="1.1"/>
<rect x="422.4" y="1034.7" width="45.4" height="44.8" rx="0.6" fill="#d9d9d9" stroke="#121212" stroke-width="1.1"/>
<line x1="422.4" y1="1040.2" x2="467.8" y2="1040.2" stroke="#121212" stroke-width="1.1"/>
<line x1="422.4" y1="1044.2" x2="467.8" y2="1044.2" stroke="#121212" stroke-width="1.1"/>
<rect x="495.1" y="1016.4" width="2.4" height="5.6" rx="0.3" fill="#8f8f8f" stroke="#121212" stroke-width="1"/>
<rect x="610.3" y="1016.4" width="2.4" height="5.6" rx="0.3" fill="#8f8f8f" stroke="#121212" stroke-width="1"/>
<rect x="485.8" y="1012.2" width="136.2" height="4.5" rx="0.4" fill="#e2e2e2" stroke="#121212" stroke-width="1.1"/>
<rect x="485.8" y="993.8" width="45.4" height="11" rx="0.8" fill="#d9d9d9" stroke="#121212" stroke-width="1.1"/>
<rect x="531.2" y="993.8" width="45.4" height="11" rx="0.8" fill="#d9d9d9" stroke="#121212" stroke-width="1.1"/>
<rect x="576.6" y="993.8" width="45.4" height="11" rx="0.8" fill="#d9d9d9" stroke="#121212" stroke-width="1.1"/>
<path d="M485.8,1012.2 L485.8,1005 Q508.5,1002.6 531.2,1005 L531.2,1012.2 Z" fill="#e3e3e3" stroke="#121212" stroke-width="1.1" stroke-linejoin="round"/>
<line x1="486.8" y1="1005.5" x2="530.2" y2="1005.5" stroke="#121212" stroke-width="1" stroke-dasharray="3,1.1"/>
<line x1="486.3" y1="1011.5" x2="530.7" y2="1011.5" stroke="#121212" stroke-width="1.4" stroke-dasharray="3,1"/>
<path d="M531.2,1012.2 L531.2,1005 Q553.9,1002.6 576.6,1005 L576.6,1012.2 Z" fill="#e3e3e3" stroke="#121212" stroke-width="1.1" stroke-linejoin="round"/>
<line x1="532.2" y1="1005.5" x2="575.6" y2="1005.5" stroke="#121212" stroke-width="1" stroke-dasharray="3,1.1"/>
<line x1="531.7" y1="1011.5" x2="576.1" y2="1011.5" stroke="#121212" stroke-width="1.4" stroke-dasharray="3,1"/>
<path d="M576.6,1012.2 L576.6,1005 Q599.3,1002.6 622,1005 L622,1012.2 Z" fill="#e3e3e3" stroke="#121212" stroke-width="1.1" stroke-linejoin="round"/>
<line x1="577.6" y1="1005.5" x2="621" y2="1005.5" stroke="#121212" stroke-width="1" stroke-dasharray="3,1.1"/>
<line x1="577.1" y1="1011.5" x2="621.5" y2="1011.5" stroke="#121212" stroke-width="1.4" stroke-dasharray="3,1"/>
<path d="M631.3,995.6 Q631.3,993.7 629.2,993.6 L624.4,993.4 Q623,993.5 622.6,994.8 Q621.6,998.2 621.6,1003.2 L621.6,1016.6 L627.6,1016.6 Q630,1007.2 631.3,995.6 Z" fill="#dcdcdc" stroke="#121212" stroke-width="1.2" stroke-linejoin="round"/>
<rect x="622" y="1038.2" width="9" height="41.3" rx="0.6" fill="#d9d9d9" stroke="#121212" stroke-width="1.1"/>
<line x1="625.6" y1="1038.2" x2="625.6" y2="1079.5" stroke="#121212" stroke-width="1.1"/>
<rect x="485.8" y="1034.7" width="45.4" height="44.8" rx="0.6" fill="#d9d9d9" stroke="#121212" stroke-width="1.1"/>
<line x1="485.8" y1="1040.2" x2="531.2" y2="1040.2" stroke="#121212" stroke-width="1.1"/>
<line x1="485.8" y1="1044.2" x2="531.2" y2="1044.2" stroke="#121212" stroke-width="1.1"/>
<rect x="531.2" y="1034.7" width="45.4" height="44.8" rx="0.6" fill="#d9d9d9" stroke="#121212" stroke-width="1.1"/>
<line x1="531.2" y1="1040.2" x2="576.6" y2="1040.2" stroke="#121212" stroke-width="1.1"/>
<line x1="531.2" y1="1044.2" x2="576.6" y2="1044.2" stroke="#121212" stroke-width="1.1"/>
<rect x="576.6" y="1034.7" width="45.4" height="44.8" rx="0.6" fill="#d9d9d9" stroke="#121212" stroke-width="1.1"/>
<line x1="576.6" y1="1040.2" x2="622" y2="1040.2" stroke="#121212" stroke-width="1.1"/>
<line x1="576.6" y1="1044.2" x2="622" y2="1044.2" stroke="#121212" stroke-width="1.1"/>
<rect x="340.9" y="1243.4" width="2.4" height="5.6" rx="0.3" fill="#8f8f8f" stroke="#121212" stroke-width="1"/>
<rect x="456.1" y="1243.4" width="2.4" height="5.6" rx="0.3" fill="#8f8f8f" stroke="#121212" stroke-width="1"/>
<rect x="331.6" y="1239.2" width="136.2" height="4.5" rx="0.4" fill="#e2e2e2" stroke="#121212" stroke-width="1.1"/>
<rect x="331.6" y="1220.8" width="45.4" height="11" rx="0.8" fill="#d9d9d9" stroke="#121212" stroke-width="1.1"/>
<rect x="377" y="1220.8" width="45.4" height="11" rx="0.8" fill="#d9d9d9" stroke="#121212" stroke-width="1.1"/>
<path d="M331.6,1239.2 L331.6,1232 Q354.3,1229.6 377,1232 L377,1239.2 Z" fill="#e3e3e3" stroke="#121212" stroke-width="1.1" stroke-linejoin="round"/>
<line x1="332.6" y1="1232.5" x2="376" y2="1232.5" stroke="#121212" stroke-width="1" stroke-dasharray="3,1.1"/>
<line x1="332.1" y1="1238.5" x2="376.5" y2="1238.5" stroke="#121212" stroke-width="1.4" stroke-dasharray="3,1"/>
<path d="M377,1239.2 L377,1232 Q399.7,1229.6 422.4,1232 L422.4,1239.2 Z" fill="#e3e3e3" stroke="#121212" stroke-width="1.1" stroke-linejoin="round"/>
<line x1="378" y1="1232.5" x2="421.4" y2="1232.5" stroke="#121212" stroke-width="1" stroke-dasharray="3,1.1"/>
<line x1="377.5" y1="1238.5" x2="421.9" y2="1238.5" stroke="#121212" stroke-width="1.4" stroke-dasharray="3,1"/>
<path d="M422.4,1239.2 L422.4,1232 Q445.1,1229.6 467.8,1232 L467.8,1239.2 Z" fill="#e3e3e3" stroke="#121212" stroke-width="1.1" stroke-linejoin="round"/>
<line x1="423.4" y1="1232.5" x2="466.8" y2="1232.5" stroke="#121212" stroke-width="1" stroke-dasharray="3,1.1"/>
<line x1="422.9" y1="1238.5" x2="467.3" y2="1238.5" stroke="#121212" stroke-width="1.4" stroke-dasharray="3,1"/>
<path d="M322.3,1222.6 Q322.3,1220.7 324.4,1220.6 L329.2,1220.4 Q330.6,1220.5 331,1221.8 Q332,1225.2 332,1230.2 L332,1243.6 L326,1243.6 Q323.6,1234.2 322.3,1222.6 Z" fill="#dcdcdc" stroke="#121212" stroke-width="1.2" stroke-linejoin="round"/>
<rect x="322.6" y="1265.2" width="9" height="41.3" rx="0.6" fill="#d9d9d9" stroke="#121212" stroke-width="1.1"/>
<line x1="328" y1="1265.2" x2="328" y2="1306.5" stroke="#121212" stroke-width="1.1"/>
<rect x="331.6" y="1261.7" width="45.4" height="44.8" rx="0.6" fill="#d9d9d9" stroke="#121212" stroke-width="1.1"/>
<line x1="331.6" y1="1267.2" x2="377" y2="1267.2" stroke="#121212" stroke-width="1.1"/>
<line x1="331.6" y1="1271.2" x2="377" y2="1271.2" stroke="#121212" stroke-width="1.1"/>
<rect x="377" y="1261.7" width="45.4" height="44.8" rx="0.6" fill="#d9d9d9" stroke="#121212" stroke-width="1.1"/>
<line x1="377" y1="1267.2" x2="422.4" y2="1267.2" stroke="#121212" stroke-width="1.1"/>
<line x1="377" y1="1271.2" x2="422.4" y2="1271.2" stroke="#121212" stroke-width="1.1"/>
<rect x="422.4" y="1271.2" width="45.4" height="35.3" rx="0.6" fill="#d9d9d9" stroke="#121212" stroke-width="1.1"/>
<rect x="495.1" y="1243.4" width="2.4" height="5.6" rx="0.3" fill="#8f8f8f" stroke="#121212" stroke-width="1"/>
<rect x="610.3" y="1243.4" width="2.4" height="5.6" rx="0.3" fill="#8f8f8f" stroke="#121212" stroke-width="1"/>
<rect x="485.8" y="1239.2" width="136.2" height="4.5" rx="0.4" fill="#e2e2e2" stroke="#121212" stroke-width="1.1"/>
<rect x="531.2" y="1220.8" width="45.4" height="11" rx="0.8" fill="#d9d9d9" stroke="#121212" stroke-width="1.1"/>
<rect x="576.6" y="1220.8" width="45.4" height="11" rx="0.8" fill="#d9d9d9" stroke="#121212" stroke-width="1.1"/>
<path d="M485.8,1239.2 L485.8,1232 Q508.5,1229.6 531.2,1232 L531.2,1239.2 Z" fill="#e3e3e3" stroke="#121212" stroke-width="1.1" stroke-linejoin="round"/>
<line x1="486.8" y1="1232.5" x2="530.2" y2="1232.5" stroke="#121212" stroke-width="1" stroke-dasharray="3,1.1"/>
<line x1="486.3" y1="1238.5" x2="530.7" y2="1238.5" stroke="#121212" stroke-width="1.4" stroke-dasharray="3,1"/>
<path d="M531.2,1239.2 L531.2,1232 Q553.9,1229.6 576.6,1232 L576.6,1239.2 Z" fill="#e3e3e3" stroke="#121212" stroke-width="1.1" stroke-linejoin="round"/>
<line x1="532.2" y1="1232.5" x2="575.6" y2="1232.5" stroke="#121212" stroke-width="1" stroke-dasharray="3,1.1"/>
<line x1="531.7" y1="1238.5" x2="576.1" y2="1238.5" stroke="#121212" stroke-width="1.4" stroke-dasharray="3,1"/>
<path d="M576.6,1239.2 L576.6,1232 Q599.3,1229.6 622,1232 L622,1239.2 Z" fill="#e3e3e3" stroke="#121212" stroke-width="1.1" stroke-linejoin="round"/>
<line x1="577.6" y1="1232.5" x2="621" y2="1232.5" stroke="#121212" stroke-width="1" stroke-dasharray="3,1.1"/>
<line x1="577.1" y1="1238.5" x2="621.5" y2="1238.5" stroke="#121212" stroke-width="1.4" stroke-dasharray="3,1"/>
<path d="M631.3,1222.6 Q631.3,1220.7 629.2,1220.6 L624.4,1220.4 Q623,1220.5 622.6,1221.8 Q621.6,1225.2 621.6,1230.2 L621.6,1243.6 L627.6,1243.6 Q630,1234.2 631.3,1222.6 Z" fill="#dcdcdc" stroke="#121212" stroke-width="1.2" stroke-linejoin="round"/>
<rect x="622" y="1265.2" width="9" height="41.3" rx="0.6" fill="#d9d9d9" stroke="#121212" stroke-width="1.1"/>
<line x1="625.6" y1="1265.2" x2="625.6" y2="1306.5" stroke="#121212" stroke-width="1.1"/>
<rect x="485.8" y="1271.2" width="45.4" height="35.3" rx="0.6" fill="#d9d9d9" stroke="#121212" stroke-width="1.1"/>
<rect x="531.2" y="1261.7" width="45.4" height="44.8" rx="0.6" fill="#d9d9d9" stroke="#121212" stroke-width="1.1"/>
<line x1="531.2" y1="1267.2" x2="576.6" y2="1267.2" stroke="#121212" stroke-width="1.1"/>
<line x1="531.2" y1="1271.2" x2="576.6" y2="1271.2" stroke="#121212" stroke-width="1.1"/>
<rect x="576.6" y="1261.7" width="45.4" height="44.8" rx="0.6" fill="#d9d9d9" stroke="#121212" stroke-width="1.1"/>
<line x1="576.6" y1="1267.2" x2="622" y2="1267.2" stroke="#121212" stroke-width="1.1"/>
<line x1="576.6" y1="1271.2" x2="622" y2="1271.2" stroke="#121212" stroke-width="1.1"/>
<text x="44.4" y="535.8" font-size="10.6" font-weight="normal" text-anchor="middle" letter-spacing="0">L</text>
<text x="198.5" y="535.8" font-size="10.6" font-weight="normal" text-anchor="middle" letter-spacing="0">R</text>
<text x="54.7" y="989.8" font-size="10.6" font-weight="normal" text-anchor="middle" letter-spacing="0">L</text>
<text x="209" y="989.8" font-size="10.6" font-weight="normal" text-anchor="middle" letter-spacing="0">R</text>
<text x="54.7" y="1216.8" font-size="10.6" font-weight="normal" text-anchor="middle" letter-spacing="0">L</text>
<text x="209" y="1216.8" font-size="10.6" font-weight="normal" text-anchor="middle" letter-spacing="0">R</text>
<text x="346.1" y="535.8" font-size="10.6" font-weight="normal" text-anchor="middle" letter-spacing="0">L</text>
<text x="591.7" y="535.8" font-size="10.6" font-weight="normal" text-anchor="middle" letter-spacing="0">R</text>
<text x="356.3" y="989.8" font-size="10.6" font-weight="normal" text-anchor="middle" letter-spacing="0">L</text>
<text x="602.6" y="989.8" font-size="10.6" font-weight="normal" text-anchor="middle" letter-spacing="0">R</text>
<text x="356.3" y="1216.8" font-size="10.6" font-weight="normal" text-anchor="middle" letter-spacing="0">L</text>
<text x="602.6" y="1216.8" font-size="10.6" font-weight="normal" text-anchor="middle" letter-spacing="0">R</text>
<text x="20.6" y="197.6" font-size="15" font-weight="bold" text-anchor="start" letter-spacing="0" textLength="56.6" lengthAdjust="spacingAndGlyphs">09.0304</text>
<text x="323.3" y="197.6" font-size="15" font-weight="bold" text-anchor="start" letter-spacing="0" textLength="56.6" lengthAdjust="spacingAndGlyphs">09.0305</text>
<text x="20.6" y="424.6" font-size="15" font-weight="bold" text-anchor="start" letter-spacing="0" textLength="78.6" lengthAdjust="spacingAndGlyphs">09.0304_01</text>
<text x="323.3" y="424.6" font-size="15" font-weight="bold" text-anchor="start" letter-spacing="0" textLength="78.6" lengthAdjust="spacingAndGlyphs">09.0305_01</text>
<text x="20.6" y="651.6" font-size="15" font-weight="bold" text-anchor="start" letter-spacing="0" textLength="81" lengthAdjust="spacingAndGlyphs">09.0304_02</text>
<text x="323.3" y="651.6" font-size="15" font-weight="bold" text-anchor="start" letter-spacing="0" textLength="81" lengthAdjust="spacingAndGlyphs">09.0305_02</text>
<text x="20.6" y="878.6" font-size="15" font-weight="bold" text-anchor="start" letter-spacing="0" textLength="81" lengthAdjust="spacingAndGlyphs">09.0304_03</text>
<text x="323.3" y="878.6" font-size="15" font-weight="bold" text-anchor="start" letter-spacing="0" textLength="81" lengthAdjust="spacingAndGlyphs">09.0305_03</text>
<text x="20.6" y="1105.6" font-size="15" font-weight="bold" text-anchor="start" letter-spacing="0" textLength="81" lengthAdjust="spacingAndGlyphs">09.0304_04</text>
<text x="323.3" y="1105.6" font-size="15" font-weight="bold" text-anchor="start" letter-spacing="0" textLength="81" lengthAdjust="spacingAndGlyphs">09.0305_04</text>
<text x="20.6" y="1332.6" font-size="15" font-weight="bold" text-anchor="start" letter-spacing="0" textLength="81" lengthAdjust="spacingAndGlyphs">09.0304_05</text>
<text x="323.3" y="1332.6" font-size="15" font-weight="bold" text-anchor="start" letter-spacing="0" textLength="81" lengthAdjust="spacingAndGlyphs">09.0305_05</text>
<rect x="757.4" y="117.4" width="47" height="5.4" rx="0.3" fill="#f4f4f4" stroke="#121212" stroke-width="1"/>
<rect x="759.9" y="118.8" width="42" height="2.6" rx="0.2" fill="#fafafa" stroke="#121212" stroke-width="0.6"/>
<rect x="757.4" y="117.4" width="2.6" height="5.6" rx="0.6" fill="#8a8a8a" stroke="#121212" stroke-width="0.6"/>
<rect x="771.7" y="117.4" width="2.6" height="5.6" rx="0.6" fill="#8a8a8a" stroke="#121212" stroke-width="0.6"/>
<rect x="786.6" y="117.4" width="2.6" height="5.6" rx="0.6" fill="#8a8a8a" stroke="#121212" stroke-width="0.6"/>
<rect x="800.7" y="117.4" width="2.6" height="5.6" rx="0.6" fill="#8a8a8a" stroke="#121212" stroke-width="0.6"/>
<rect x="755.4" y="112.8" width="51.4" height="4.6" rx="0.5" fill="#e2e2e2" stroke="#121212" stroke-width="1.1"/>
<path d="M755.4,112.8 L755.4,105.4 Q781.1,103.1 806.8,105.4 L806.8,112.8 Z" fill="#e3e3e3" stroke="#121212" stroke-width="1.1" stroke-linejoin="round"/>
<line x1="792" y1="104.8" x2="792" y2="117.4" stroke="#121212" stroke-width="1.3"/>
<line x1="756.4" y1="106" x2="805.8" y2="106" stroke="#121212" stroke-width="1" stroke-dasharray="3,1.1"/>
<line x1="755.9" y1="112" x2="806.3" y2="112" stroke="#121212" stroke-width="1.4" stroke-dasharray="3,1"/>
<polygon points="771.2,136.5 806.3,136.5 806.3,171 790.7,202.3 755.6,202.3 755.6,167.5" fill="#d9d9d9" stroke="#121212" stroke-width="1.1" stroke-linejoin="round"/>
<rect x="825.3" y="117.4" width="47" height="5.4" rx="0.3" fill="#f4f4f4" stroke="#121212" stroke-width="1"/>
<rect x="827.8" y="118.8" width="42" height="2.6" rx="0.2" fill="#fafafa" stroke="#121212" stroke-width="0.6"/>
<rect x="869.7" y="117.4" width="2.6" height="5.6" rx="0.6" fill="#8a8a8a" stroke="#121212" stroke-width="0.6"/>
<rect x="855.4" y="117.4" width="2.6" height="5.6" rx="0.6" fill="#8a8a8a" stroke="#121212" stroke-width="0.6"/>
<rect x="840.5" y="117.4" width="2.6" height="5.6" rx="0.6" fill="#8a8a8a" stroke="#121212" stroke-width="0.6"/>
<rect x="826.4" y="117.4" width="2.6" height="5.6" rx="0.6" fill="#8a8a8a" stroke="#121212" stroke-width="0.6"/>
<rect x="822.9" y="112.8" width="51.4" height="4.6" rx="0.5" fill="#e2e2e2" stroke="#121212" stroke-width="1.1"/>
<path d="M874.3,112.8 L874.3,105.4 Q848.6,103.1 822.9,105.4 L822.9,112.8 Z" fill="#e3e3e3" stroke="#121212" stroke-width="1.1" stroke-linejoin="round"/>
<line x1="837.7" y1="104.8" x2="837.7" y2="117.4" stroke="#121212" stroke-width="1.3"/>
<line x1="873.3" y1="106" x2="823.9" y2="106" stroke="#121212" stroke-width="1" stroke-dasharray="3,1.1"/>
<line x1="873.8" y1="112" x2="823.4" y2="112" stroke="#121212" stroke-width="1.4" stroke-dasharray="3,1"/>
<polygon points="858.5,136.5 823.4,136.5 823.4,171 839,202.3 874.1,202.3 874.1,167.5" fill="#d9d9d9" stroke="#121212" stroke-width="1.1" stroke-linejoin="round"/>
<text x="787.4" y="100.7" font-size="10.6" font-weight="normal" text-anchor="middle" letter-spacing="0">L</text>
<text x="841.8" y="100.7" font-size="10.6" font-weight="normal" text-anchor="middle" letter-spacing="0">R</text>
<rect x="757.4" y="379.3" width="47" height="5.4" rx="0.3" fill="#f4f4f4" stroke="#121212" stroke-width="1"/>
<rect x="759.9" y="380.7" width="42" height="2.6" rx="0.2" fill="#fafafa" stroke="#121212" stroke-width="0.6"/>
<rect x="757.4" y="379.3" width="2.6" height="5.6" rx="0.6" fill="#8a8a8a" stroke="#121212" stroke-width="0.6"/>
<rect x="771.7" y="379.3" width="2.6" height="5.6" rx="0.6" fill="#8a8a8a" stroke="#121212" stroke-width="0.6"/>
<rect x="786.6" y="379.3" width="2.6" height="5.6" rx="0.6" fill="#8a8a8a" stroke="#121212" stroke-width="0.6"/>
<rect x="800.7" y="379.3" width="2.6" height="5.6" rx="0.6" fill="#8a8a8a" stroke="#121212" stroke-width="0.6"/>
<rect x="771.6" y="356.2" width="35.2" height="11" rx="0.8" fill="#d9d9d9" stroke="#121212" stroke-width="1.1"/>
<rect x="755.4" y="374.7" width="51.4" height="4.6" rx="0.5" fill="#e2e2e2" stroke="#121212" stroke-width="1.1"/>
<path d="M755.4,374.7 L755.4,367.3 Q781.1,365 806.8,367.3 L806.8,374.7 Z" fill="#e3e3e3" stroke="#121212" stroke-width="1.1" stroke-linejoin="round"/>
<line x1="792" y1="366.7" x2="792" y2="379.3" stroke="#121212" stroke-width="1.3"/>
<line x1="756.4" y1="367.9" x2="805.8" y2="367.9" stroke="#121212" stroke-width="1" stroke-dasharray="3,1.1"/>
<line x1="755.9" y1="373.9" x2="806.3" y2="373.9" stroke="#121212" stroke-width="1.4" stroke-dasharray="3,1"/>
<rect x="771.5" y="397.9" width="34.8" height="9.3" rx="0.6" fill="#d9d9d9" stroke="#121212" stroke-width="1.1"/>
<line x1="771.5" y1="403.7" x2="806.3" y2="403.7" stroke="#121212" stroke-width="1.1"/>
<polygon points="771.2,407.2 806.3,407.2 806.3,441.7 790.7,473 755.6,473 755.6,438.2" fill="#d9d9d9" stroke="#121212" stroke-width="1.1" stroke-linejoin="round"/>
<rect x="825.3" y="379.3" width="47" height="5.4" rx="0.3" fill="#f4f4f4" stroke="#121212" stroke-width="1"/>
<rect x="827.8" y="380.7" width="42" height="2.6" rx="0.2" fill="#fafafa" stroke="#121212" stroke-width="0.6"/>
<rect x="869.7" y="379.3" width="2.6" height="5.6" rx="0.6" fill="#8a8a8a" stroke="#121212" stroke-width="0.6"/>
<rect x="855.4" y="379.3" width="2.6" height="5.6" rx="0.6" fill="#8a8a8a" stroke="#121212" stroke-width="0.6"/>
<rect x="840.5" y="379.3" width="2.6" height="5.6" rx="0.6" fill="#8a8a8a" stroke="#121212" stroke-width="0.6"/>
<rect x="826.4" y="379.3" width="2.6" height="5.6" rx="0.6" fill="#8a8a8a" stroke="#121212" stroke-width="0.6"/>
<rect x="822.9" y="356.2" width="35.2" height="11" rx="0.8" fill="#d9d9d9" stroke="#121212" stroke-width="1.1"/>
<rect x="822.9" y="374.7" width="51.4" height="4.6" rx="0.5" fill="#e2e2e2" stroke="#121212" stroke-width="1.1"/>
<path d="M874.3,374.7 L874.3,367.3 Q848.6,365 822.9,367.3 L822.9,374.7 Z" fill="#e3e3e3" stroke="#121212" stroke-width="1.1" stroke-linejoin="round"/>
<line x1="837.7" y1="366.7" x2="837.7" y2="379.3" stroke="#121212" stroke-width="1.3"/>
<line x1="873.3" y1="367.9" x2="823.9" y2="367.9" stroke="#121212" stroke-width="1" stroke-dasharray="3,1.1"/>
<line x1="873.8" y1="373.9" x2="823.4" y2="373.9" stroke="#121212" stroke-width="1.4" stroke-dasharray="3,1"/>
<rect x="823.4" y="397.9" width="34.8" height="9.3" rx="0.6" fill="#d9d9d9" stroke="#121212" stroke-width="1.1"/>
<line x1="823.4" y1="403.7" x2="858.2" y2="403.7" stroke="#121212" stroke-width="1.1"/>
<polygon points="858.5,407.2 823.4,407.2 823.4,441.7 839,473 874.1,473 874.1,438.2" fill="#d9d9d9" stroke="#121212" stroke-width="1.1" stroke-linejoin="round"/>
<text x="787.4" y="352.7" font-size="10.6" font-weight="normal" text-anchor="middle" letter-spacing="0">L</text>
<text x="841.8" y="352.7" font-size="10.6" font-weight="normal" text-anchor="middle" letter-spacing="0">R</text>
<rect x="757.4" y="650.6" width="47" height="5.4" rx="0.3" fill="#f4f4f4" stroke="#121212" stroke-width="1"/>
<rect x="759.9" y="652" width="42" height="2.6" rx="0.2" fill="#fafafa" stroke="#121212" stroke-width="0.6"/>
<rect x="757.4" y="650.6" width="2.6" height="5.6" rx="0.6" fill="#8a8a8a" stroke="#121212" stroke-width="0.6"/>
<rect x="771.7" y="650.6" width="2.6" height="5.6" rx="0.6" fill="#8a8a8a" stroke="#121212" stroke-width="0.6"/>
<rect x="786.6" y="650.6" width="2.6" height="5.6" rx="0.6" fill="#8a8a8a" stroke="#121212" stroke-width="0.6"/>
<rect x="800.7" y="650.6" width="2.6" height="5.6" rx="0.6" fill="#8a8a8a" stroke="#121212" stroke-width="0.6"/>
<rect x="755.4" y="646" width="51.4" height="4.6" rx="0.5" fill="#e2e2e2" stroke="#121212" stroke-width="1.1"/>
<path d="M755.4,646 L755.4,638.6 Q781.1,636.3 806.8,638.6 L806.8,646 Z" fill="#e3e3e3" stroke="#121212" stroke-width="1.1" stroke-linejoin="round"/>
<line x1="792" y1="638" x2="792" y2="650.6" stroke="#121212" stroke-width="1.3"/>
<line x1="756.4" y1="639.2" x2="805.8" y2="639.2" stroke="#121212" stroke-width="1" stroke-dasharray="3,1.1"/>
<line x1="755.9" y1="645.2" x2="806.3" y2="645.2" stroke="#121212" stroke-width="1.4" stroke-dasharray="3,1"/>
<path d="M746.1,629.2 Q746.1,627.3 748.2,627.2 L753,627 Q754.4,627.1 754.8,628.4 Q755.8,631.8 755.8,636.8 L755.8,650.2 L749.8,650.2 Q747.4,640.8 746.1,629.2 Z" fill="#dcdcdc" stroke="#121212" stroke-width="1.2" stroke-linejoin="round"/>
<rect x="746.6" y="700.4" width="9" height="34.5" rx="0.6" fill="#d9d9d9" stroke="#121212" stroke-width="1.1"/>
<line x1="752.4" y1="700.4" x2="752.4" y2="734.9" stroke="#121212" stroke-width="1.1"/>
<polygon points="771.2,669.1 806.3,669.1 806.3,703.6 790.7,734.9 755.6,734.9 755.6,700.1" fill="#d9d9d9" stroke="#121212" stroke-width="1.1" stroke-linejoin="round"/>
<rect x="825.3" y="650.6" width="47" height="5.4" rx="0.3" fill="#f4f4f4" stroke="#121212" stroke-width="1"/>
<rect x="827.8" y="652" width="42" height="2.6" rx="0.2" fill="#fafafa" stroke="#121212" stroke-width="0.6"/>
<rect x="869.7" y="650.6" width="2.6" height="5.6" rx="0.6" fill="#8a8a8a" stroke="#121212" stroke-width="0.6"/>
<rect x="855.4" y="650.6" width="2.6" height="5.6" rx="0.6" fill="#8a8a8a" stroke="#121212" stroke-width="0.6"/>
<rect x="840.5" y="650.6" width="2.6" height="5.6" rx="0.6" fill="#8a8a8a" stroke="#121212" stroke-width="0.6"/>
<rect x="826.4" y="650.6" width="2.6" height="5.6" rx="0.6" fill="#8a8a8a" stroke="#121212" stroke-width="0.6"/>
<rect x="822.9" y="646" width="51.4" height="4.6" rx="0.5" fill="#e2e2e2" stroke="#121212" stroke-width="1.1"/>
<path d="M874.3,646 L874.3,638.6 Q848.6,636.3 822.9,638.6 L822.9,646 Z" fill="#e3e3e3" stroke="#121212" stroke-width="1.1" stroke-linejoin="round"/>
<line x1="837.7" y1="638" x2="837.7" y2="650.6" stroke="#121212" stroke-width="1.3"/>
<line x1="873.3" y1="639.2" x2="823.9" y2="639.2" stroke="#121212" stroke-width="1" stroke-dasharray="3,1.1"/>
<line x1="873.8" y1="645.2" x2="823.4" y2="645.2" stroke="#121212" stroke-width="1.4" stroke-dasharray="3,1"/>
<path d="M883.6,629.2 Q883.6,627.3 881.5,627.2 L876.7,627 Q875.3,627.1 874.9,628.4 Q873.9,631.8 873.9,636.8 L873.9,650.2 L879.9,650.2 Q882.3,640.8 883.6,629.2 Z" fill="#dcdcdc" stroke="#121212" stroke-width="1.2" stroke-linejoin="round"/>
<rect x="874.1" y="700.4" width="9" height="34.5" rx="0.6" fill="#d9d9d9" stroke="#121212" stroke-width="1.1"/>
<line x1="877.3" y1="700.4" x2="877.3" y2="734.9" stroke="#121212" stroke-width="1.1"/>
<polygon points="858.5,669.1 823.4,669.1 823.4,703.6 839,734.9 874.1,734.9 874.1,700.1" fill="#d9d9d9" stroke="#121212" stroke-width="1.1" stroke-linejoin="round"/>
<text x="787.4" y="621.5" font-size="10.6" font-weight="normal" text-anchor="middle" letter-spacing="0">L</text>
<text x="841.8" y="621.5" font-size="10.6" font-weight="normal" text-anchor="middle" letter-spacing="0">R</text>
<rect x="757.4" y="912.5" width="47" height="5.4" rx="0.3" fill="#f4f4f4" stroke="#121212" stroke-width="1"/>
<rect x="759.9" y="913.9" width="42" height="2.6" rx="0.2" fill="#fafafa" stroke="#121212" stroke-width="0.6"/>
<rect x="757.4" y="912.5" width="2.6" height="5.6" rx="0.6" fill="#8a8a8a" stroke="#121212" stroke-width="0.6"/>
<rect x="771.7" y="912.5" width="2.6" height="5.6" rx="0.6" fill="#8a8a8a" stroke="#121212" stroke-width="0.6"/>
<rect x="786.6" y="912.5" width="2.6" height="5.6" rx="0.6" fill="#8a8a8a" stroke="#121212" stroke-width="0.6"/>
<rect x="800.7" y="912.5" width="2.6" height="5.6" rx="0.6" fill="#8a8a8a" stroke="#121212" stroke-width="0.6"/>
<rect x="771.6" y="889.4" width="35.2" height="11" rx="0.8" fill="#d9d9d9" stroke="#121212" stroke-width="1.1"/>
<polygon points="748.9,889.1 765.9,888.9 768.7,891.2 771.6,897.7 771.6,900.7 753.4,900.7" fill="#d9d9d9" stroke="#121212" stroke-width="1.1" stroke-linejoin="round"/>
<rect x="755.4" y="907.9" width="51.4" height="4.6" rx="0.5" fill="#e2e2e2" stroke="#121212" stroke-width="1.1"/>
<path d="M755.4,907.9 L755.4,900.5 Q781.1,898.2 806.8,900.5 L806.8,907.9 Z" fill="#e3e3e3" stroke="#121212" stroke-width="1.1" stroke-linejoin="round"/>
<line x1="792" y1="899.9" x2="792" y2="912.5" stroke="#121212" stroke-width="1.3"/>
<line x1="756.4" y1="901.1" x2="805.8" y2="901.1" stroke="#121212" stroke-width="1" stroke-dasharray="3,1.1"/>
<line x1="755.9" y1="907.1" x2="806.3" y2="907.1" stroke="#121212" stroke-width="1.4" stroke-dasharray="3,1"/>
<path d="M746.1,891.1 Q746.1,889.2 748.2,889.1 L753,888.9 Q754.4,889 754.8,890.3 Q755.8,893.7 755.8,898.7 L755.8,912.1 L749.8,912.1 Q747.4,902.7 746.1,891.1 Z" fill="#dcdcdc" stroke="#121212" stroke-width="1.2" stroke-linejoin="round"/>
<polygon points="771.2,939.8 763.16,935.75 747.56,966.75 755.6,970.8" fill="#d9d9d9" stroke="#121212" stroke-width="1.1" stroke-linejoin="round"/>
<line x1="768.16" y1="938.27" x2="752.56" y2="969.27" stroke="#121212" stroke-width="1.1"/>
<rect x="771.5" y="930.5" width="34.8" height="9.3" rx="0.6" fill="#d9d9d9" stroke="#121212" stroke-width="1.1"/>
<line x1="771.5" y1="936.3" x2="806.3" y2="936.3" stroke="#121212" stroke-width="1.1"/>
<polygon points="771.2,939.8 806.3,939.8 806.3,974.3 790.7,1005.6 755.6,1005.6 755.6,970.8" fill="#d9d9d9" stroke="#121212" stroke-width="1.1" stroke-linejoin="round"/>
<rect x="825.3" y="912.5" width="47" height="5.4" rx="0.3" fill="#f4f4f4" stroke="#121212" stroke-width="1"/>
<rect x="827.8" y="913.9" width="42" height="2.6" rx="0.2" fill="#fafafa" stroke="#121212" stroke-width="0.6"/>
<rect x="869.7" y="912.5" width="2.6" height="5.6" rx="0.6" fill="#8a8a8a" stroke="#121212" stroke-width="0.6"/>
<rect x="855.4" y="912.5" width="2.6" height="5.6" rx="0.6" fill="#8a8a8a" stroke="#121212" stroke-width="0.6"/>
<rect x="840.5" y="912.5" width="2.6" height="5.6" rx="0.6" fill="#8a8a8a" stroke="#121212" stroke-width="0.6"/>
<rect x="826.4" y="912.5" width="2.6" height="5.6" rx="0.6" fill="#8a8a8a" stroke="#121212" stroke-width="0.6"/>
<rect x="822.9" y="889.4" width="35.2" height="11" rx="0.8" fill="#d9d9d9" stroke="#121212" stroke-width="1.1"/>
<polygon points="880.8,889.1 863.8,888.9 861,891.2 858.1,897.7 858.1,900.7 876.3,900.7" fill="#d9d9d9" stroke="#121212" stroke-width="1.1" stroke-linejoin="round"/>
<rect x="822.9" y="907.9" width="51.4" height="4.6" rx="0.5" fill="#e2e2e2" stroke="#121212" stroke-width="1.1"/>
<path d="M874.3,907.9 L874.3,900.5 Q848.6,898.2 822.9,900.5 L822.9,907.9 Z" fill="#e3e3e3" stroke="#121212" stroke-width="1.1" stroke-linejoin="round"/>
<line x1="837.7" y1="899.9" x2="837.7" y2="912.5" stroke="#121212" stroke-width="1.3"/>
<line x1="873.3" y1="901.1" x2="823.9" y2="901.1" stroke="#121212" stroke-width="1" stroke-dasharray="3,1.1"/>
<line x1="873.8" y1="907.1" x2="823.4" y2="907.1" stroke="#121212" stroke-width="1.4" stroke-dasharray="3,1"/>
<path d="M883.6,891.1 Q883.6,889.2 881.5,889.1 L876.7,888.9 Q875.3,889 874.9,890.3 Q873.9,893.7 873.9,898.7 L873.9,912.1 L879.9,912.1 Q882.3,902.7 883.6,891.1 Z" fill="#dcdcdc" stroke="#121212" stroke-width="1.2" stroke-linejoin="round"/>
<polygon points="858.5,939.8 866.54,935.75 882.14,966.75 874.1,970.8" fill="#d9d9d9" stroke="#121212" stroke-width="1.1" stroke-linejoin="round"/>
<line x1="861.54" y1="938.27" x2="877.14" y2="969.27" stroke="#121212" stroke-width="1.1"/>
<rect x="823.4" y="930.5" width="34.8" height="9.3" rx="0.6" fill="#d9d9d9" stroke="#121212" stroke-width="1.1"/>
<line x1="823.4" y1="936.3" x2="858.2" y2="936.3" stroke="#121212" stroke-width="1.1"/>
<polygon points="858.5,939.8 823.4,939.8 823.4,974.3 839,1005.6 874.1,1005.6 874.1,970.8" fill="#d9d9d9" stroke="#121212" stroke-width="1.1" stroke-linejoin="round"/>
<text x="787.4" y="884.5" font-size="10.6" font-weight="normal" text-anchor="middle" letter-spacing="0">L</text>
<text x="841.8" y="884.5" font-size="10.6" font-weight="normal" text-anchor="middle" letter-spacing="0">R</text>
<rect x="757.4" y="1183.6" width="47" height="5.4" rx="0.3" fill="#f4f4f4" stroke="#121212" stroke-width="1"/>
<rect x="759.9" y="1185" width="42" height="2.6" rx="0.2" fill="#fafafa" stroke="#121212" stroke-width="0.6"/>
<rect x="757.4" y="1183.6" width="2.6" height="5.6" rx="0.6" fill="#8a8a8a" stroke="#121212" stroke-width="0.6"/>
<rect x="771.7" y="1183.6" width="2.6" height="5.6" rx="0.6" fill="#8a8a8a" stroke="#121212" stroke-width="0.6"/>
<rect x="786.6" y="1183.6" width="2.6" height="5.6" rx="0.6" fill="#8a8a8a" stroke="#121212" stroke-width="0.6"/>
<rect x="800.7" y="1183.6" width="2.6" height="5.6" rx="0.6" fill="#8a8a8a" stroke="#121212" stroke-width="0.6"/>
<rect x="771.6" y="1160.5" width="35.2" height="11" rx="0.8" fill="#d9d9d9" stroke="#121212" stroke-width="1.1"/>
<polygon points="748.9,1160.2 765.9,1160 768.7,1162.3 771.6,1168.8 771.6,1171.8 753.4,1171.8" fill="#d9d9d9" stroke="#121212" stroke-width="1.1" stroke-linejoin="round"/>
<rect x="755.4" y="1179" width="51.4" height="4.6" rx="0.5" fill="#e2e2e2" stroke="#121212" stroke-width="1.1"/>
<path d="M755.4,1179 L755.4,1171.6 Q781.1,1169.3 806.8,1171.6 L806.8,1179 Z" fill="#e3e3e3" stroke="#121212" stroke-width="1.1" stroke-linejoin="round"/>
<line x1="792" y1="1171" x2="792" y2="1183.6" stroke="#121212" stroke-width="1.3"/>
<line x1="756.4" y1="1172.2" x2="805.8" y2="1172.2" stroke="#121212" stroke-width="1" stroke-dasharray="3,1.1"/>
<line x1="755.9" y1="1178.2" x2="806.3" y2="1178.2" stroke="#121212" stroke-width="1.4" stroke-dasharray="3,1"/>
<path d="M746.1,1162.2 Q746.1,1160.3 748.2,1160.2 L753,1160 Q754.4,1160.1 754.8,1161.4 Q755.8,1164.8 755.8,1169.8 L755.8,1183.2 L749.8,1183.2 Q747.4,1173.8 746.1,1162.2 Z" fill="#dcdcdc" stroke="#121212" stroke-width="1.2" stroke-linejoin="round"/>
<polygon points="771.2,1211.3 763.16,1207.25 747.56,1238.25 755.6,1242.3" fill="#d9d9d9" stroke="#121212" stroke-width="1.1" stroke-linejoin="round"/>
<line x1="768.16" y1="1209.77" x2="752.56" y2="1240.77" stroke="#121212" stroke-width="1.1"/>
<rect x="746.6" y="1242.6" width="9" height="34.5" rx="0.6" fill="#d9d9d9" stroke="#121212" stroke-width="1.1"/>
<line x1="752.4" y1="1242.6" x2="752.4" y2="1277.1" stroke="#121212" stroke-width="1.1"/>
<rect x="771.5" y="1202" width="34.8" height="9.3" rx="0.6" fill="#d9d9d9" stroke="#121212" stroke-width="1.1"/>
<line x1="771.5" y1="1207.8" x2="806.3" y2="1207.8" stroke="#121212" stroke-width="1.1"/>
<polygon points="771.2,1211.3 806.3,1211.3 806.3,1245.8 790.7,1277.1 755.6,1277.1 755.6,1242.3" fill="#d9d9d9" stroke="#121212" stroke-width="1.1" stroke-linejoin="round"/>
<rect x="825.3" y="1183.6" width="47" height="5.4" rx="0.3" fill="#f4f4f4" stroke="#121212" stroke-width="1"/>
<rect x="827.8" y="1185" width="42" height="2.6" rx="0.2" fill="#fafafa" stroke="#121212" stroke-width="0.6"/>
<rect x="869.7" y="1183.6" width="2.6" height="5.6" rx="0.6" fill="#8a8a8a" stroke="#121212" stroke-width="0.6"/>
<rect x="855.4" y="1183.6" width="2.6" height="5.6" rx="0.6" fill="#8a8a8a" stroke="#121212" stroke-width="0.6"/>
<rect x="840.5" y="1183.6" width="2.6" height="5.6" rx="0.6" fill="#8a8a8a" stroke="#121212" stroke-width="0.6"/>
<rect x="826.4" y="1183.6" width="2.6" height="5.6" rx="0.6" fill="#8a8a8a" stroke="#121212" stroke-width="0.6"/>
<rect x="822.9" y="1160.5" width="35.2" height="11" rx="0.8" fill="#d9d9d9" stroke="#121212" stroke-width="1.1"/>
<polygon points="880.8,1160.2 863.8,1160 861,1162.3 858.1,1168.8 858.1,1171.8 876.3,1171.8" fill="#d9d9d9" stroke="#121212" stroke-width="1.1" stroke-linejoin="round"/>
<rect x="822.9" y="1179" width="51.4" height="4.6" rx="0.5" fill="#e2e2e2" stroke="#121212" stroke-width="1.1"/>
<path d="M874.3,1179 L874.3,1171.6 Q848.6,1169.3 822.9,1171.6 L822.9,1179 Z" fill="#e3e3e3" stroke="#121212" stroke-width="1.1" stroke-linejoin="round"/>
<line x1="837.7" y1="1171" x2="837.7" y2="1183.6" stroke="#121212" stroke-width="1.3"/>
<line x1="873.3" y1="1172.2" x2="823.9" y2="1172.2" stroke="#121212" stroke-width="1" stroke-dasharray="3,1.1"/>
<line x1="873.8" y1="1178.2" x2="823.4" y2="1178.2" stroke="#121212" stroke-width="1.4" stroke-dasharray="3,1"/>
<path d="M883.6,1162.2 Q883.6,1160.3 881.5,1160.2 L876.7,1160 Q875.3,1160.1 874.9,1161.4 Q873.9,1164.8 873.9,1169.8 L873.9,1183.2 L879.9,1183.2 Q882.3,1173.8 883.6,1162.2 Z" fill="#dcdcdc" stroke="#121212" stroke-width="1.2" stroke-linejoin="round"/>
<polygon points="858.5,1211.3 866.54,1207.25 882.14,1238.25 874.1,1242.3" fill="#d9d9d9" stroke="#121212" stroke-width="1.1" stroke-linejoin="round"/>
<line x1="861.54" y1="1209.77" x2="877.14" y2="1240.77" stroke="#121212" stroke-width="1.1"/>
<rect x="874.1" y="1242.6" width="9" height="34.5" rx="0.6" fill="#d9d9d9" stroke="#121212" stroke-width="1.1"/>
<line x1="877.3" y1="1242.6" x2="877.3" y2="1277.1" stroke="#121212" stroke-width="1.1"/>
<rect x="823.4" y="1202" width="34.8" height="9.3" rx="0.6" fill="#d9d9d9" stroke="#121212" stroke-width="1.1"/>
<line x1="823.4" y1="1207.8" x2="858.2" y2="1207.8" stroke="#121212" stroke-width="1.1"/>
<polygon points="858.5,1211.3 823.4,1211.3 823.4,1245.8 839,1277.1 874.1,1277.1 874.1,1242.3" fill="#d9d9d9" stroke="#121212" stroke-width="1.1" stroke-linejoin="round"/>
<text x="787.4" y="1156.4" font-size="10.6" font-weight="normal" text-anchor="middle" letter-spacing="0">L</text>
<text x="841.8" y="1156.4" font-size="10.6" font-weight="normal" text-anchor="middle" letter-spacing="0">R</text>
<text x="755.3" y="228.5" font-size="15" font-weight="bold" text-anchor="start" letter-spacing="0" textLength="56.6" lengthAdjust="spacingAndGlyphs">09.0306</text>
<text x="755.3" y="499.6" font-size="15" font-weight="bold" text-anchor="start" letter-spacing="0" textLength="78.6" lengthAdjust="spacingAndGlyphs">09.0306_01</text>
<text x="755.3" y="760.5" font-size="15" font-weight="bold" text-anchor="start" letter-spacing="0" textLength="81" lengthAdjust="spacingAndGlyphs">09.0306_02</text>
<text x="755.3" y="1031" font-size="15" font-weight="bold" text-anchor="start" letter-spacing="0" textLength="81" lengthAdjust="spacingAndGlyphs">09.0306_03</text>
<text x="755.3" y="1302.6" font-size="15" font-weight="bold" text-anchor="start" letter-spacing="0" textLength="81" lengthAdjust="spacingAndGlyphs">09.0306_04</text>
</svg>
</body></html>
